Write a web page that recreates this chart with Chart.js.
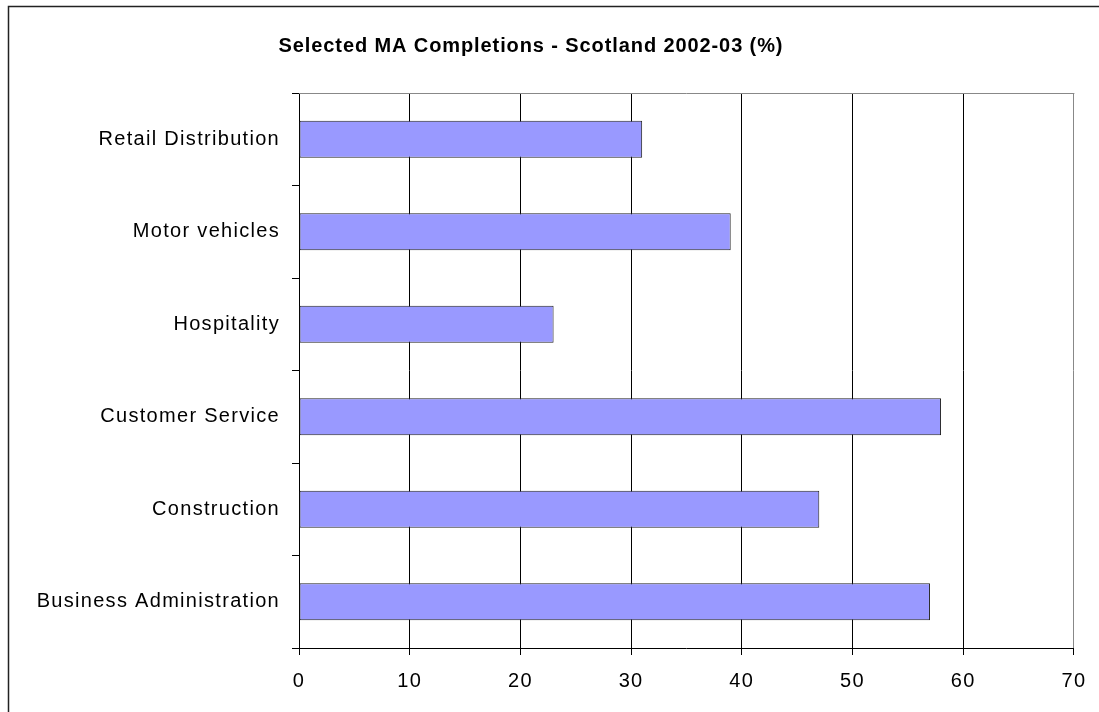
<!DOCTYPE html>
<html>
<head>
<meta charset="utf-8">
<script src="https://cdn.jsdelivr.net/npm/chart.js@4"></script>
<style>
  html, body { margin: 0; padding: 0; background: #fff; }
  #wrap { width: 1099px; height: 712px; position: relative; }
</style>
</head>
<body>
<div id="wrap"><canvas id="maChart" width="1099" height="712"></canvas></div>
<script>
const chartTitle = 'Selected MA Completions - Scotland 2002-03 (%)';
const categories = ['Retail Distribution', 'Motor vehicles', 'Hospitality', 'Customer Service', 'Construction', 'Business Administration'];
const completions = [31, 39, 23, 58, 47, 57];
const xTicks = [0, 10, 20, 30, 40, 50, 60, 70];

const FONT = "'Liberation Sans', Arial, sans-serif";

// frame, letter spacing, title and the grey top edge of the plot
const framePlugin = {
    id: 'frame',
    beforeDraw(chart) {
        const ctx = chart.ctx;
        ctx.save();
        ctx.fillStyle = '#fff';
        ctx.fillRect(0, 0, chart.width, chart.height);
        ctx.strokeStyle = '#222';
        ctx.lineWidth = 1.5;
        ctx.strokeRect(8.5, 6.5, 1300, 900);
        ctx.restore();
        ctx.letterSpacing = '1.3px';
    },
    afterDraw(chart) {
        const ctx = chart.ctx;
        const a = chart.chartArea;
        ctx.save();
        ctx.strokeStyle = '#888';
        ctx.lineWidth = 1;
        ctx.beginPath();
        ctx.moveTo(a.left, Math.round(a.top) + 0.5);
        ctx.lineTo(a.right + 0.5, Math.round(a.top) + 0.5);
        ctx.stroke();

        ctx.fillStyle = '#000';
        ctx.font = 'bold 20px ' + FONT;
        ctx.letterSpacing = '0.9px';
        ctx.textAlign = 'center';
        ctx.textBaseline = 'middle';
        ctx.fillText(chartTitle, 531, 46);
        ctx.restore();
    }
};

new Chart(document.getElementById('maChart'), {
    type: 'bar',
    data: {
        labels: categories,
        datasets: [{
            data: completions,
            backgroundColor: '#9999FF',
            borderColor: '#222',
            borderWidth: 1,
            borderSkipped: false,
            categoryPercentage: 0.4,
            barPercentage: 1
        }]
    },
    options: {
        indexAxis: 'y',
        responsive: false,
        animation: false,
        layout: { padding: { top: 93, right: 24, left: 0, bottom: 0 } },
        plugins: {
            legend: { display: false },
            tooltip: { enabled: false },
            title: { display: false }
        },
        scales: {
            x: {
                min: 0,
                max: 70,
                afterBuildTicks: (scale) => { scale.ticks = xTicks.map(v => ({ value: v })); },
                afterFit: (scale) => { scale.height = 64; },
                grid: {
                    color: (c) => c.tick && c.tick.value === 70 ? '#888' : '#000',
                    tickColor: '#000',
                    tickLength: 7,
                    lineWidth: 1
                },
                border: { color: '#000', width: 1 },
                ticks: {
                    color: '#000',
                    font: { family: FONT, size: 20 },
                    padding: 14,
                    maxRotation: 0
                }
            },
            y: {
                afterFit: (scale) => { scale.width = 299; },
                grid: {
                    drawOnChartArea: false,
                    drawTicks: true,
                    tickLength: 7,
                    offset: true,
                    tickColor: '#000'
                },
                border: { color: '#000', width: 1 },
                ticks: {
                    color: '#000',
                    font: { family: FONT, size: 20 },
                    padding: 12
                }
            }
        }
    },
    plugins: [framePlugin]
});
</script>
</body>
</html>
